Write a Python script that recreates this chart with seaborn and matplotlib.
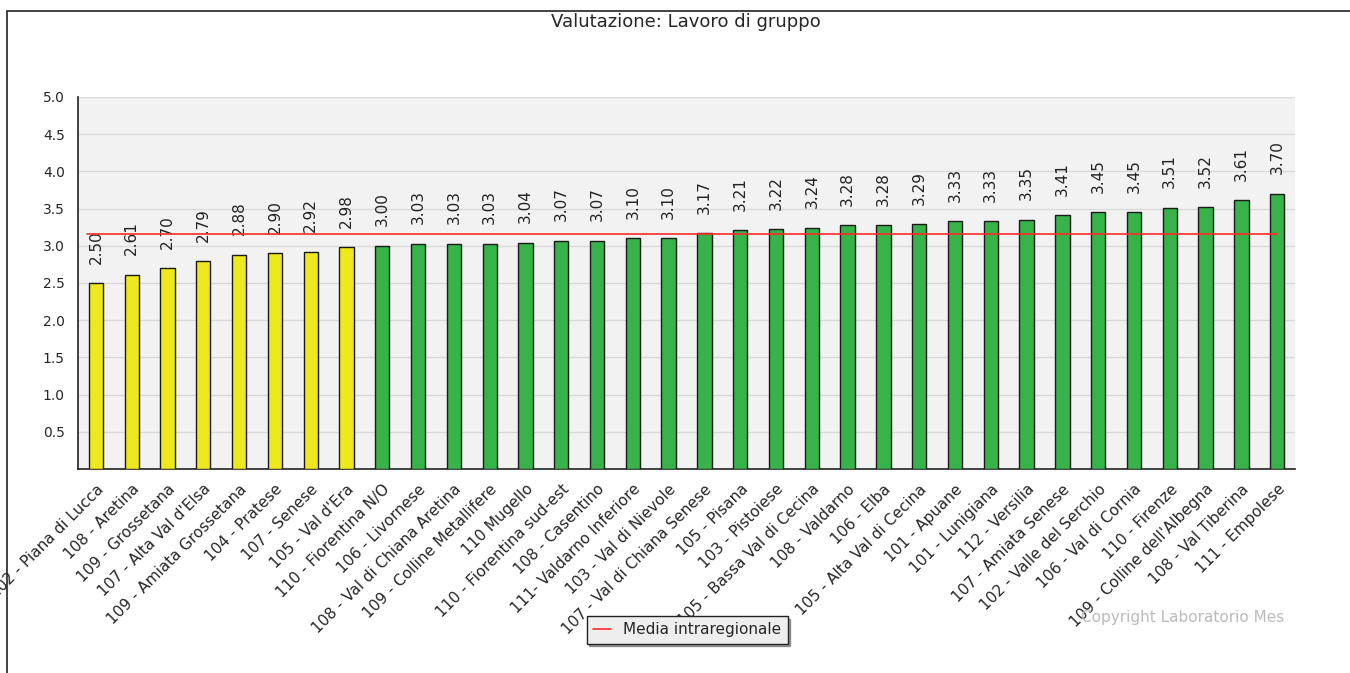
"""Bar chart of group-work scores by zone, with the regional mean line."""
import matplotlib.pyplot as plt
import pandas as pd
import seaborn as sns
from matplotlib.patches import Rectangle

zones = [
    "102 - Piana di Lucca", "108 - Aretina", "109 - Grossetana", "107 - Alta Val d'Elsa",
    "109 - Amiata Grossetana", "104 - Pratese", "107 - Senese", "105 - Val d'Era",
    "110 - Fiorentina N/O", "106 - Livornese", "108 - Val di Chiana Aretina",
    "109 - Colline Metallifere", "110 Mugello", "110 - Fiorentina sud-est", "108 - Casentino",
    "111- Valdarno Inferiore", "103 - Val di Nievole", "107 - Val di Chiana Senese",
    "105 - Pisana", "103 - Pistoiese", "105 - Bassa Val di Cecina", "108 - Valdarno",
    "106 - Elba", "105 - Alta Val di Cecina", "101 - Apuane", "101 - Lunigiana",
    "112 - Versilia", "107 - Amiata Senese", "102 - Valle del Serchio", "106 - Val di Cornia",
    "110 - Firenze", "109 - Colline dell'Albegna", "108 - Val Tiberina", "111 - Empolese",
]
scores = [
    2.50, 2.61, 2.70, 2.79, 2.88, 2.90, 2.92, 2.98, 3.00, 3.03, 3.03, 3.03,
    3.04, 3.07, 3.07, 3.10, 3.10, 3.17, 3.21, 3.22, 3.24, 3.28, 3.28, 3.29,
    3.33, 3.33, 3.35, 3.41, 3.45, 3.45, 3.51, 3.52, 3.61, 3.70,
]
regional_mean = 3.16
yticks = [0.5, 1.0, 1.5, 2.0, 2.5, 3.0, 3.5, 4.0, 4.5, 5.0]

df = pd.DataFrame({"zone": zones, "score": scores})
df["band"] = ["low" if s < 3.0 else "ok" for s in scores]
palette = {"low": "#eee81c", "ok": "#37b34a"}

sns.set_style("white")
plt.rcParams["font.family"] = ["DejaVu Sans"]

fig = plt.figure(figsize=(13.5, 6.73), dpi=100)
ax = fig.add_axes([0.0578, 0.3031, 0.9015, 0.5528])
ax.set_facecolor("#f2f2f2")

sns.barplot(data=df, x="zone", y="score", hue="band", palette=palette, dodge=False,
            saturation=1, width=0.4, edgecolor="#1a1a1a", linewidth=1.0, legend=False,
            ax=ax, zorder=3)

for i, s in enumerate(scores):
    ax.annotate(f"{s:.2f}", (i, s), xytext=(0, 14), textcoords="offset points",
                rotation=90, ha="center", va="bottom", fontsize=11, color="#222222")

ax.plot([-0.25, len(zones) - 1], [regional_mean, regional_mean], color="#ff2a2a",
        lw=1.2, zorder=4, label="Media intraregionale")

ax.set_xlim(-0.5, len(zones) - 0.5)
ax.set_ylim(0, 5.0)
ax.set_yticks(yticks)
ax.set_yticklabels([f"{t:.1f}" for t in yticks], fontsize=10)
ax.set_yticks([i / 10 for i in range(1, 50)], minor=True)
ax.tick_params(axis="y", which="major", length=6, width=1, direction="out")
ax.tick_params(axis="y", which="minor", length=3, width=0.8, direction="out")
ax.yaxis.grid(True, color="#d9d9d9", lw=1, zorder=0)

ax.set_xticks(range(len(zones)))
ax.set_xticklabels(zones, rotation=45, ha="right", rotation_mode="anchor", fontsize=11)
ax.tick_params(axis="x", which="major", length=0, pad=9)
ax.set_xticks([k + 0.5 for k in range(len(zones))], minor=True)
ax.tick_params(axis="x", which="minor", length=5, width=1, direction="in")
ax.set_xlabel("")
ax.set_ylabel("")

for side in ["top", "right"]:
    ax.spines[side].set_visible(False)
for side in ["left", "bottom"]:
    ax.spines[side].set_color("#222222")
    ax.spines[side].set_linewidth(1.2)

fig.text(0.508, 0.967, "Valutazione: Lavoro di gruppo", ha="center", va="center", fontsize=13)
fig.text(0.951, 0.082, "Copyright Laboratorio Mes", ha="right", va="center",
         fontsize=11, color="#bbbbbb")

leg = fig.legend(loc="center", bbox_to_anchor=(0.509, 0.064), fontsize=11,
                 frameon=True, fancybox=False, shadow=True, handlelength=1.2,
                 borderpad=0.4)
leg.get_frame().set_facecolor("#eeeeee")
leg.get_frame().set_edgecolor("#222222")
leg.get_frame().set_alpha(1)

fig.patches.append(Rectangle((7 / 1350, -0.1), 1.2, 1 - 11 / 673 + 0.1,
                             transform=fig.transFigure, fill=False,
                             edgecolor="#222222", lw=1.2))

fig.savefig("out.png", dpi=100)
